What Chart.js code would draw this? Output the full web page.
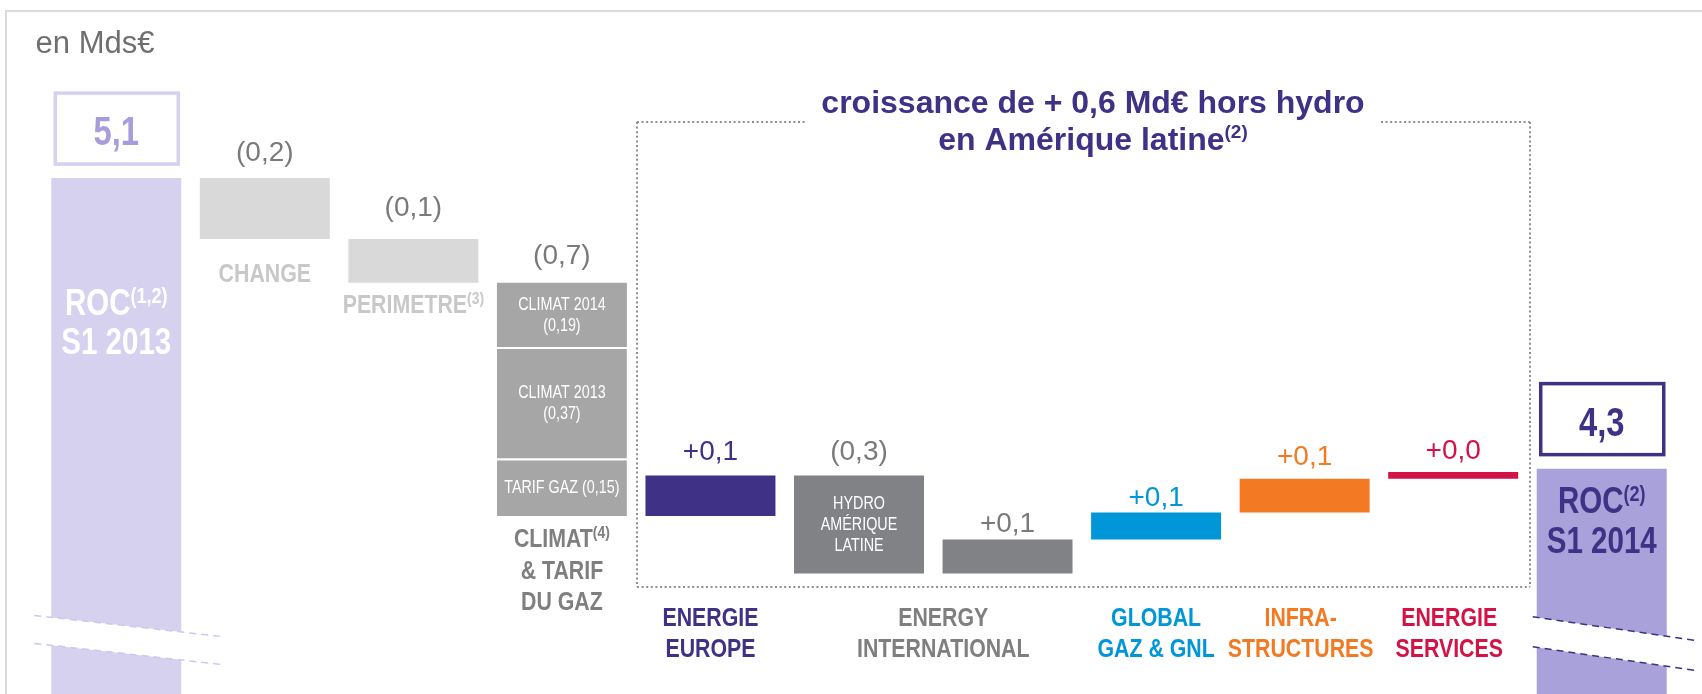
<!DOCTYPE html>
<html>
<head>
<meta charset="utf-8">
<script src="https://cdn.jsdelivr.net/npm/chart.js@4"></script>
<style>
html, body { margin: 0; padding: 0; background: #fff; }
canvas { display: block; }
</style>
</head>
<body>
<canvas id="graph" width="1702" height="694"></canvas>
<script>
// Categories
var categories = ['ROC S1 2013', 'CHANGE', 'PERIMETRE', 'CLIMAT & TARIF DU GAZ', 'ENERGIE EUROPE',
    'HYDRO AMERIQUE LATINE', 'ENERGY INTERNATIONAL', 'GLOBAL GAZ & GNL', 'INFRASTRUCTURES', 'ENERGIE SERVICES', 'ROC S1 2014'];
// Start / end totals (Mds€) and their labels
var totals = [5.10, 4.24];
var totalLabels = ['5,1', '4,3'];
// Variations as drawn (Mds€)
var deltas = [null, -0.18, -0.13, -0.69, 0.12, -0.29, 0.10, 0.08, 0.10, 0.02, null];
var deltaLabels = ['', '(0,2)', '(0,1)', '(0,7)', '+0,1', '(0,3)', '+0,1', '+0,1', '+0,1', '+0,0', ''];
// Climat split: climat 2014, climat 2013, tarif gaz
var climatIndex = 3;
var climatParts = [-0.19, -0.33, -0.17];
var climatLabels = [['CLIMAT 2014', '(0,19)'], ['CLIMAT 2013', '(0,37)'], ['TARIF GAZ (0,15)']];
// Axis range (broken axis, bottom cut)
var yMin = 3.573, yMax = 5.627, breakValue = 3.80;

var purple = '#3f3185';
var barColors = ['#d5d1ef', '#d9d9d9', '#d9d9d9', '#a6a6a6', purple, '#818286', '#818286', '#0096d8', '#f37a22', '#d31245', '#a9a1da'];
var labelColors = ['', '#7a7a7a', '#7a7a7a', '#7a7a7a', purple, '#7a7a7a', '#7a7a7a', '#0096d8', '#f37a22', '#d31245', ''];
var labelGaps = [0, 17, 23, 19, 15, 15, 8, 7, 14, 13, 0];

// Build floating ranges
var mainRanges = [], part2 = [], part3 = [];
var level = totals[0];
categories.forEach(function (c, i) {
    part2.push(null);
    part3.push(null);
    if (i === 0) { mainRanges.push([yMin, totals[0]]); return; }
    if (i === categories.length - 1) { mainRanges.push([yMin, totals[1]]); return; }
    if (i === climatIndex) {
        var l1 = level + climatParts[0], l2 = l1 + climatParts[1], l3 = l2 + climatParts[2];
        mainRanges.push([l1, level]);
        part2[i] = [l2, l1];
        part3[i] = [l3, l2];
        level = l3;
        return;
    }
    var next = level + deltas[i];
    mainRanges.push([Math.min(level, next), Math.max(level, next)]);
    level = next;
});

var FONT = '"Liberation Sans", Arial, sans-serif';
function fontOf(p) { return (p.bold ? 'bold ' : '') + p.size + 'px ' + FONT; }
// draw a run of text parts centred on cx (narrow = horizontally condensed)
function drawParts(ctx, parts, cx, y, color, narrow) {
    var sx = narrow ? 0.82 : 1;
    var widths = parts.map(function (p) { ctx.font = fontOf(p); return ctx.measureText(p.t).width * sx; });
    var total = widths.reduce(function (a, b) { return a + b; }, 0);
    var x = cx - total / 2;
    parts.forEach(function (p, i) {
        ctx.save();
        ctx.translate(x, y + (p.dy || 0));
        ctx.scale(sx, 1);
        ctx.font = fontOf(p);
        ctx.fillStyle = color;
        ctx.textAlign = 'left';
        ctx.textBaseline = 'alphabetic';
        ctx.fillText(p.t, 0, 0);
        ctx.restore();
        x += widths[i];
    });
}
function line(ctx, x1, y1, x2, y2) { ctx.beginPath(); ctx.moveTo(x1, y1); ctx.lineTo(x2, y2); ctx.stroke(); }

var decorPlugin = {
    id: 'decor',
    beforeDraw: function (chart) {
        var ctx = chart.ctx;
        ctx.save();
        ctx.fillStyle = '#fff';
        ctx.fillRect(0, 0, chart.width, chart.height);
        // frame
        ctx.strokeStyle = '#dadada';
        ctx.lineWidth = 2;
        line(ctx, 6, 11, chart.width, 11);
        line(ctx, 6, 10, 6, chart.height);
        // unit
        drawParts(ctx, [{ t: 'en Mds€', size: 31 }], 95, 53, '#6f6f6f', false);
        // dotted box around BU contributions
        ctx.strokeStyle = '#8f8f8f';
        ctx.lineWidth = 2;
        ctx.setLineDash([2, 2.6]);
        line(ctx, 637, 122, 807, 122);
        line(ctx, 1381, 122, 1530, 122);
        line(ctx, 637, 122, 637, 587);
        line(ctx, 1530, 122, 1530, 587);
        line(ctx, 637, 587, 1530, 587);
        ctx.setLineDash([]);
        // title
        drawParts(ctx, [{ t: 'croissance de + 0,6 Md€ hors hydro', size: 32, bold: true }], 1093, 113, purple, false);
        drawParts(ctx, [{ t: 'en Amérique latine', size: 32, bold: true }, { t: '(2)', size: 19, bold: true, dy: -12 }], 1093, 150, purple, false);
        ctx.restore();
    },
    afterDatasetsDraw: function (chart) {
        var ctx = chart.ctx;
        var yScale = chart.scales.y;
        var bars = chart.getDatasetMeta(0).data;
        var last = bars.length - 1;
        ctx.save();

        // axis break on the two totals
        var breakY = yScale.getPixelForValue(breakValue);
        [[0, 0.113, 17, 39, '#cdc8ec', 28], [last, 0.146, 4, 30, purple, 30]].forEach(function (b) {
            var el = bars[b[0]];
            var l = el.x - el.width / 2, r = el.x + el.width / 2;
            var slope = b[1], th = b[5];
            var yAt = function (x) { return breakY + (x - l) * slope; };
            ctx.fillStyle = '#fff';
            ctx.beginPath();
            ctx.moveTo(l - 1, yAt(l - 1));
            ctx.lineTo(r + 1, yAt(r + 1));
            ctx.lineTo(r + 1, yAt(r + 1) + th);
            ctx.lineTo(l - 1, yAt(l - 1) + th);
            ctx.closePath();
            ctx.fill();
            ctx.strokeStyle = b[4];
            ctx.lineWidth = 1.5;
            ctx.setLineDash([7, 5]);
            var x1 = l - b[2], x2 = r + b[3];
            line(ctx, x1, yAt(x1), x2, yAt(x2));
            line(ctx, x1, yAt(x1) + th, x2, yAt(x2) + th);
            ctx.setLineDash([]);
        });

        // total boxes and inner labels
        [[0, '#d5d1ef', '#a99cdb'], [last, purple, purple]].forEach(function (b, k) {
            var el = bars[b[0]];
            var top = Math.min(el.y, el.base);
            ctx.strokeStyle = b[1];
            ctx.lineWidth = 3.5;
            ctx.strokeRect(el.x - 61, top - 85, 123, 71);
            drawParts(ctx, [{ t: totalLabels[k], size: 40, bold: true }], el.x, top - 33, b[2], true);
        });
        var e0 = bars[0], eN = bars[last];
        drawParts(ctx, [{ t: 'ROC', size: 36, bold: true }, { t: '(1,2)', size: 22, bold: true, dy: -12 }], e0.x, 315, '#fff', true);
        drawParts(ctx, [{ t: 'S1 2013', size: 36, bold: true }], e0.x, 354, '#fff', true);
        var topN = Math.min(eN.y, eN.base);
        drawParts(ctx, [{ t: 'ROC', size: 36, bold: true }, { t: '(2)', size: 22, bold: true, dy: -12 }], eN.x, topN + 44, purple, true);
        drawParts(ctx, [{ t: 'S1 2014', size: 36, bold: true }], eN.x, topN + 84, purple, true);

        // value labels above variation bars
        for (var i = 1; i < last; i++) {
            var el = bars[i];
            var top = Math.min(el.y, el.base);
            drawParts(ctx, [{ t: deltaLabels[i], size: 28 }], el.x, top - labelGaps[i], labelColors[i], false);
        }

        // climat segment labels
        [0, 1, 2].forEach(function (d) {
            var seg = chart.getDatasetMeta(d).data[climatIndex];
            var mid = (seg.y + seg.base) / 2;
            var lines = climatLabels[d];
            lines.forEach(function (t, j) {
                drawParts(ctx, [{ t: t, size: 17.5 }], seg.x, mid - (lines.length - 1) * 21 / 2 + 6 + j * 21, '#fff', true);
            });
        });
        // hydro label
        var hy = bars[5];
        ['HYDRO', 'AMÉRIQUE', 'LATINE'].forEach(function (t, j) {
            drawParts(ctx, [{ t: t, size: 17.5 }], hy.x, (hy.y + hy.base) / 2 - 21 + 6 + j * 21, '#fff', true);
        });

        // labels under the first variations
        var bot = function (el) { return Math.max(el.y, el.base); };
        drawParts(ctx, [{ t: 'CHANGE', size: 26, bold: true }], bars[1].x, bot(bars[1]) + 43, '#c8c8c8', true);
        drawParts(ctx, [{ t: 'PERIMETRE', size: 26, bold: true }, { t: '(3)', size: 17, bold: true, dy: -9 }], bars[2].x, bot(bars[2]) + 30, '#c8c8c8', true);
        var climBottom = bot(chart.getDatasetMeta(2).data[climatIndex]);
        drawParts(ctx, [{ t: 'CLIMAT', size: 26, bold: true }, { t: '(4)', size: 17, bold: true, dy: -9 }], bars[3].x, climBottom + 31, '#7f7f7f', true);
        drawParts(ctx, [{ t: '& TARIF', size: 26, bold: true }], bars[3].x, climBottom + 63, '#7f7f7f', true);
        drawParts(ctx, [{ t: 'DU GAZ', size: 26, bold: true }], bars[3].x, climBottom + 94, '#7f7f7f', true);

        // business unit labels
        var bu = [
            [bars[4].x, ['ENERGIE', 'EUROPE'], purple],
            [(bars[5].x + bars[6].x) / 2 + 10, ['ENERGY', 'INTERNATIONAL'], '#7f7f7f'],
            [bars[7].x, ['GLOBAL', 'GAZ & GNL'], '#0096d8'],
            [bars[8].x - 4, ['INFRA-', 'STRUCTURES'], '#f37a22'],
            [bars[9].x - 4, ['ENERGIE', 'SERVICES'], '#d31245']
        ];
        bu.forEach(function (b) {
            b[1].forEach(function (t, j) {
                drawParts(ctx, [{ t: t, size: 26, bold: true }], b[0], 626 + j * 31, b[2], true);
            });
        });
        ctx.restore();
    }
};

var common = { grouped: false, barPercentage: 0.875, categoryPercentage: 1.0, borderSkipped: false };
var config = {
    type: 'bar',
    data: {
        labels: categories,
        datasets: [
            Object.assign({ label: 'main', data: mainRanges, backgroundColor: barColors, borderWidth: 0 }, common),
            Object.assign({ label: 'climat 2013', data: part2, backgroundColor: '#a6a6a6', borderColor: '#fff', borderWidth: { top: 2, left: 0, right: 0, bottom: 0 } }, common),
            Object.assign({ label: 'tarif gaz', data: part3, backgroundColor: '#a6a6a6', borderColor: '#fff', borderWidth: { top: 2, left: 0, right: 0, bottom: 0 } }, common)
        ]
    },
    options: {
        responsive: false,
        animation: false,
        devicePixelRatio: 1,
        layout: { padding: { left: 42, right: 26, top: 0, bottom: 0 } },
        scales: {
            x: { display: false, grid: { display: false } },
            y: { display: false, min: yMin, max: yMax, grid: { display: false } }
        },
        plugins: { legend: { display: false }, tooltip: { enabled: false } }
    },
    plugins: [decorPlugin]
};
new Chart(document.getElementById('graph'), config);
</script>
</body>
</html>
